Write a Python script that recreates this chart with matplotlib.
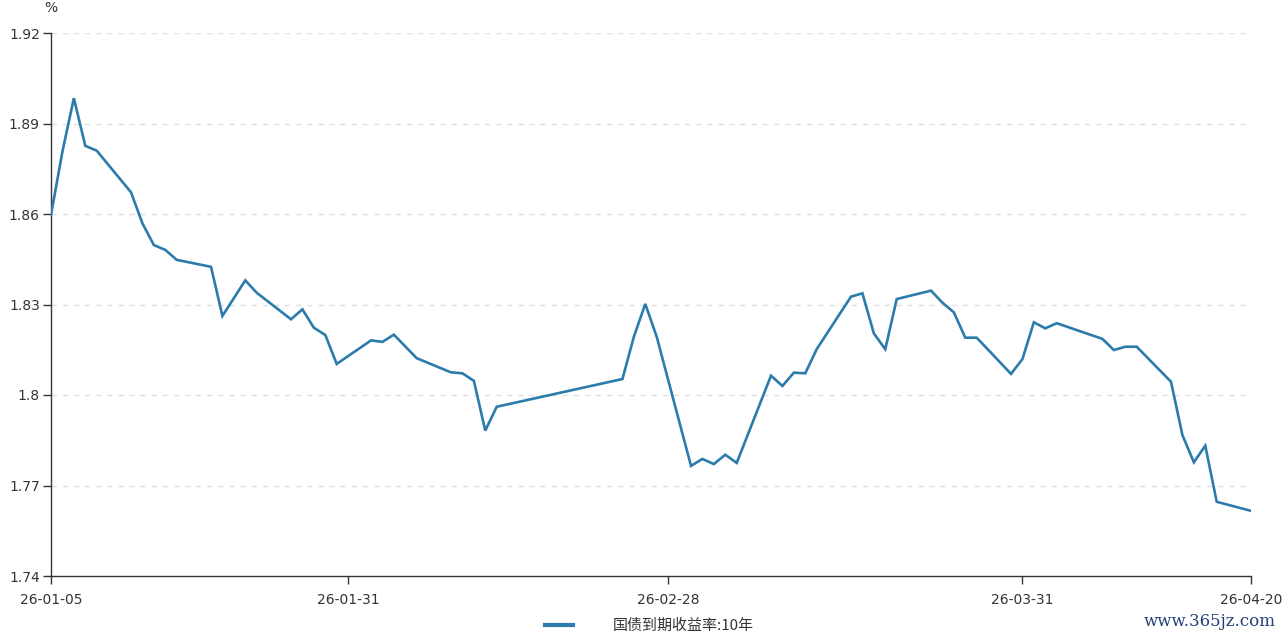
"""
国债到期收益率:10年 走势图
"""

import pandas as pd
import matplotlib
matplotlib.use('Agg')
import matplotlib.pyplot as plt
import matplotlib.dates as mdates

plt.rcParams['font.family'] = ['Noto Sans CJK SC', 'DejaVu Sans']

# 数据
fechas = [
    '2026-01-05', '2026-01-06', '2026-01-07', '2026-01-08', '2026-01-09',
    '2026-01-12', '2026-01-13', '2026-01-14', '2026-01-15', '2026-01-16',
    '2026-01-19', '2026-01-20', '2026-01-22', '2026-01-23',
    '2026-01-26', '2026-01-27', '2026-01-28', '2026-01-29', '2026-01-30',
    '2026-02-02', '2026-02-03', '2026-02-04', '2026-02-06',
    '2026-02-09', '2026-02-10', '2026-02-11', '2026-02-12', '2026-02-13',
    '2026-02-24', '2026-02-25', '2026-02-26', '2026-02-27',
    '2026-03-02', '2026-03-03', '2026-03-04', '2026-03-05', '2026-03-06',
    '2026-03-09', '2026-03-10', '2026-03-11', '2026-03-12', '2026-03-13',
    '2026-03-16', '2026-03-17', '2026-03-18', '2026-03-19', '2026-03-20',
    '2026-03-23', '2026-03-24', '2026-03-25', '2026-03-26', '2026-03-27',
    '2026-03-30', '2026-03-31', '2026-04-01', '2026-04-02', '2026-04-03',
    '2026-04-07', '2026-04-08', '2026-04-09', '2026-04-10',
    '2026-04-13', '2026-04-14', '2026-04-15', '2026-04-16', '2026-04-17',
    '2026-04-20',
]
rendimiento = [
    1.8597, 1.8807, 1.8984, 1.8826, 1.8810,
    1.8672, 1.8569, 1.8497, 1.8481, 1.8448,
    1.8425, 1.8262, 1.8380, 1.8339,
    1.8251, 1.8284, 1.8223, 1.8199, 1.8103,
    1.8181, 1.8176, 1.8200, 1.8122,
    1.8075, 1.8072, 1.8047, 1.7882, 1.7961,
    1.8053, 1.8193, 1.8302, 1.8193,
    1.7765, 1.7788, 1.7771, 1.7802, 1.7775,
    1.8064, 1.8030, 1.8074, 1.8072, 1.8152,
    1.8326, 1.8337, 1.8204, 1.8152, 1.8318,
    1.8346, 1.8306, 1.8274, 1.8190, 1.8190,
    1.8070, 1.8119, 1.8241, 1.8221, 1.8238,
    1.8186, 1.8149, 1.8160, 1.8160,
    1.8044, 1.7867, 1.7777, 1.7832, 1.7646,
    1.7616,
]
ticks_x = ['2026-01-05', '2026-01-31', '2026-02-28', '2026-03-31', '2026-04-20']
ticks_y = [1.74, 1.77, 1.80, 1.83, 1.86, 1.89, 1.92]
etiquetas_y = ['1.74', '1.77', '1.8', '1.83', '1.86', '1.89', '1.92']
serie_nombre = '国债到期收益率:10年'


def main():
    fechas_dt = pd.to_datetime(fechas)
    ticks_dt = pd.to_datetime(ticks_x)

    fig = plt.figure(figsize=(12.87, 6.33), dpi=100)
    ax = fig.add_axes([51 / 1287, 57 / 633, 1200 / 1287, 543 / 633])

    color_linea = '#2b7bab'
    ax.plot(fechas_dt, rendimiento, color=color_linea, linewidth=1.9,
            solid_joinstyle='miter', label=serie_nombre, zorder=3)

    ax.set_xlim(ticks_dt[0], ticks_dt[-1])
    ax.set_ylim(1.74, 1.92)
    ax.set_yticks(ticks_y)
    ax.set_yticklabels(etiquetas_y)
    ax.set_xticks(ticks_dt)
    ax.xaxis.set_major_formatter(mdates.DateFormatter('%y-%m-%d'))

    for v in ticks_y[1:]:
        ax.axhline(v, color='#e0e0e0', linestyle=(0, (4, 4)), linewidth=1.0, zorder=1)

    for lado in ['top', 'right']:
        ax.spines[lado].set_visible(False)
    for lado in ['left', 'bottom']:
        ax.spines[lado].set_color('#333333')
        ax.spines[lado].set_linewidth(1.0)

    ax.tick_params(axis='both', colors='#333333', labelcolor='#333333',
                   labelsize=10, length=6, width=1.0, pad=2)
    ax.tick_params(axis='x', pad=6)
    for lbl in ax.get_xticklabels() + ax.get_yticklabels():
        lbl.set_family(['DejaVu Sans'])

    fig.text(51 / 1287, 1 - 8 / 633, '%', ha='center', va='center',
             fontsize=10, color='#333333', family='DejaVu Sans')

    leg = fig.legend(loc='center', bbox_to_anchor=(649 / 1287, 1 - 626 / 633),
                     frameon=False, fontsize=10.8, handlelength=1.9,
                     handletextpad=2.6)
    for h in leg.get_lines():
        h.set_linewidth(3)
    for t in leg.get_texts():
        t.set_color('#333333')

    fig.text(1210 / 1287, 1 - 622 / 633, 'www.365jz.com', ha='center', va='center',
             fontsize=12, color='#23407a', family='DejaVu Serif')

    plt.savefig('out.png', dpi=100)
    plt.close()


if __name__ == "__main__":
    main()
